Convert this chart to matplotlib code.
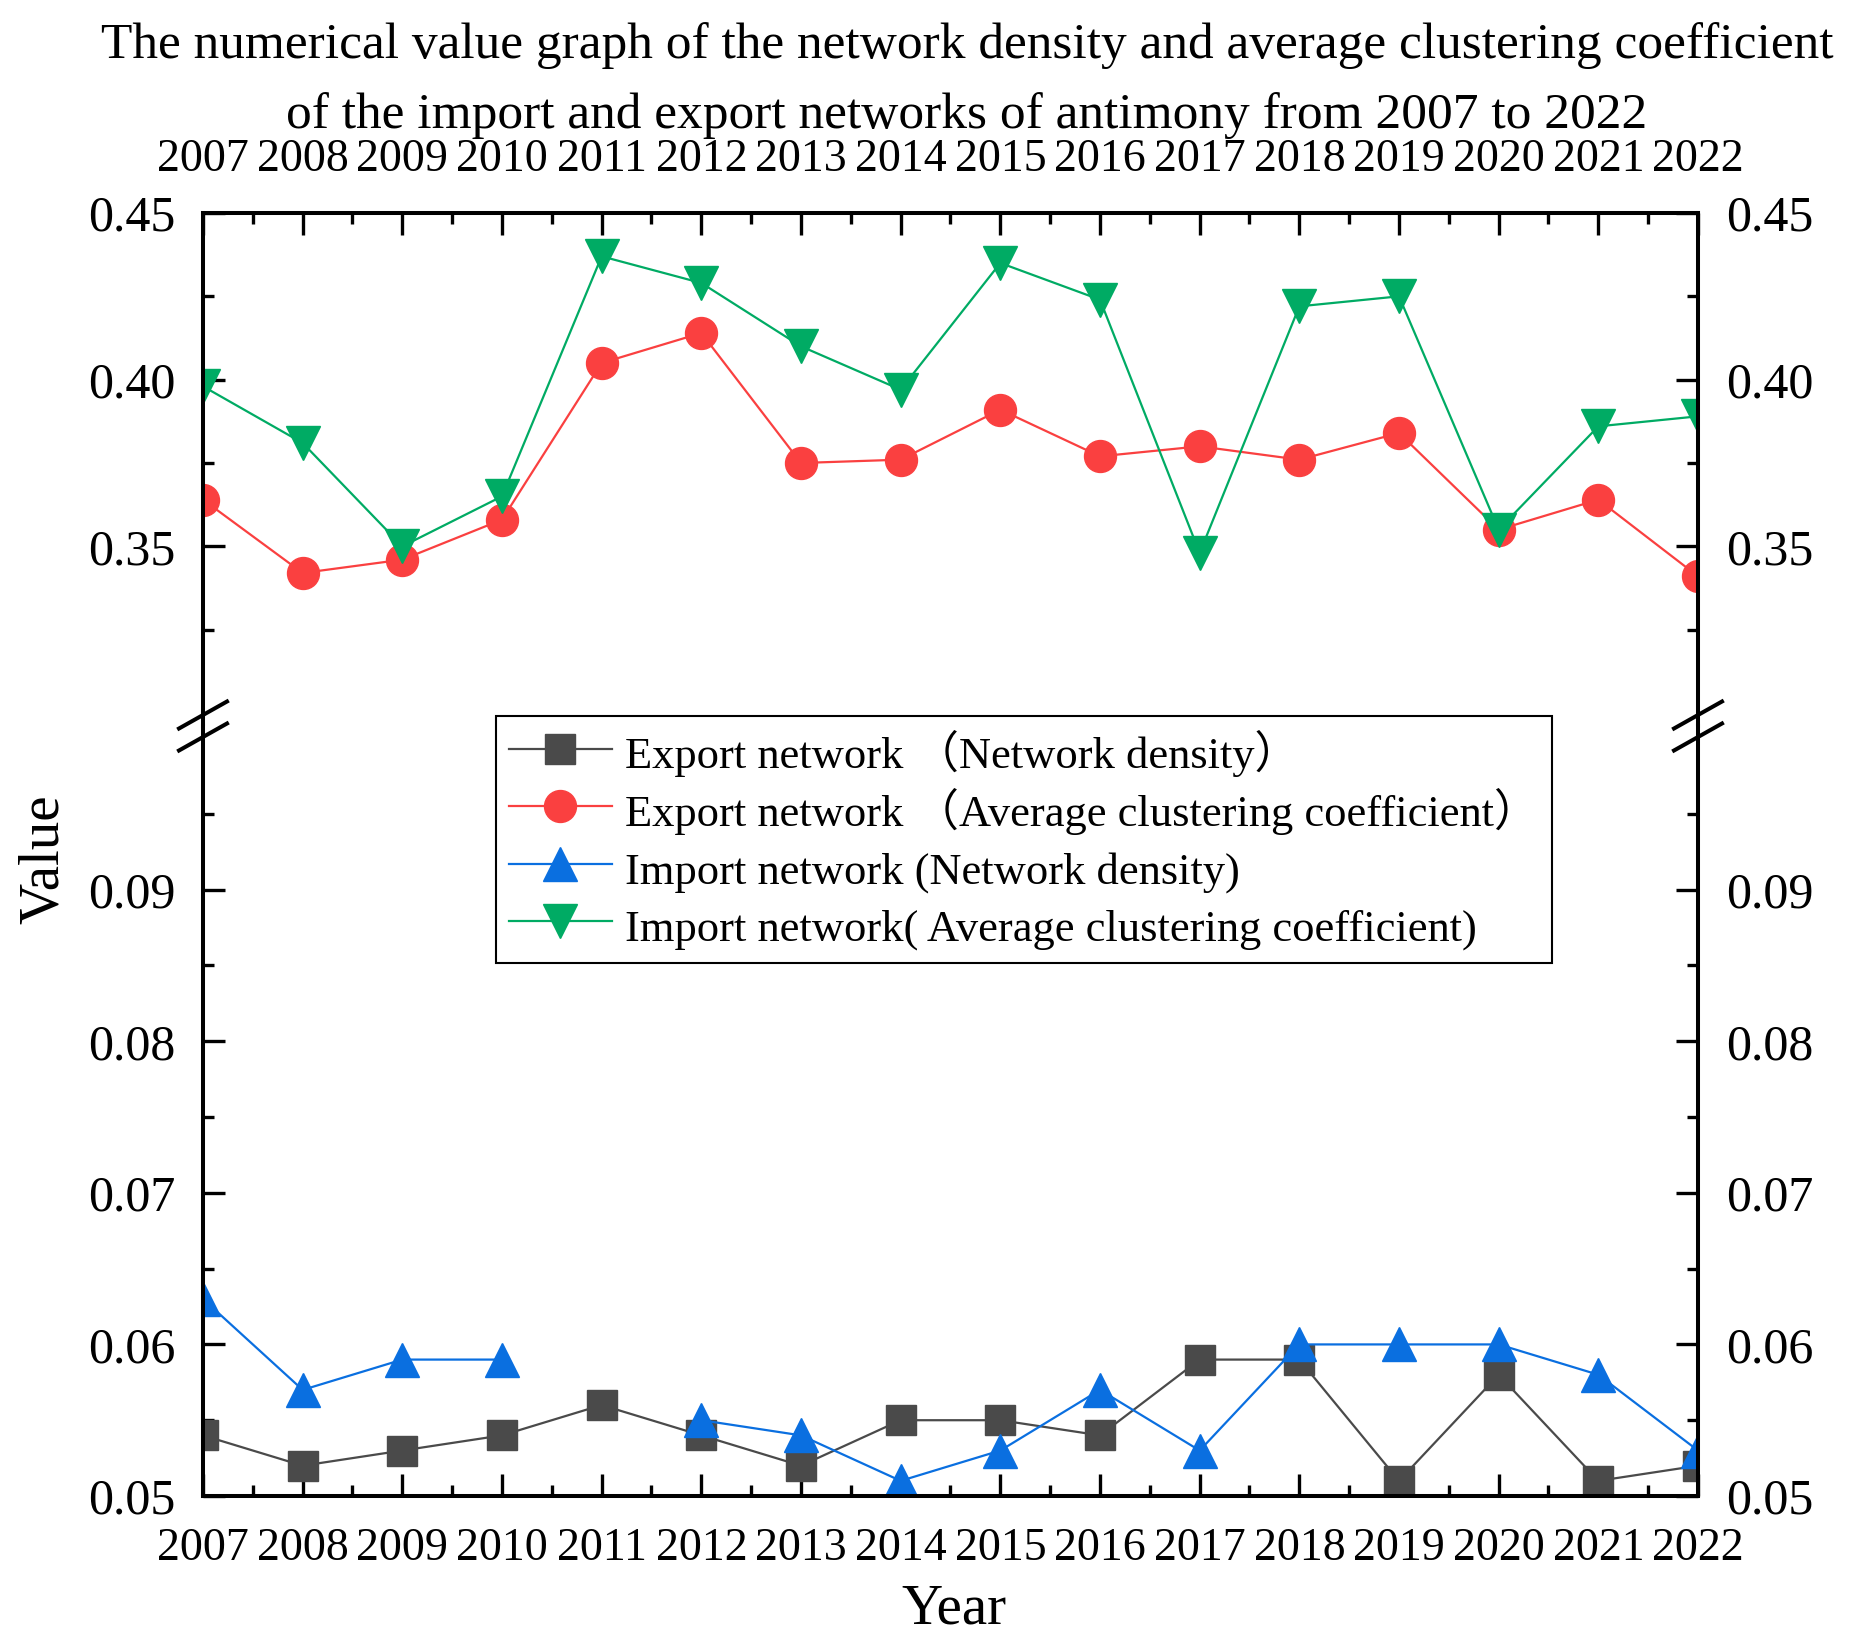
import numpy as np
import matplotlib
matplotlib.use('Agg')
import matplotlib.pyplot as plt
from matplotlib.lines import Line2D
from matplotlib.ticker import FormatStrFormatter

plt.rcParams['font.family'] = ['Liberation Serif', 'Noto Sans CJK SC']

# data
years = np.arange(2007, 2023)
exp_density = [0.054, 0.052, 0.053, 0.054, 0.056, 0.054, 0.052, 0.055,
               0.055, 0.054, 0.059, 0.059, 0.051, 0.058, 0.051, 0.052]
imp_density = [0.063, 0.057, 0.059, 0.059, np.nan, 0.055, 0.054, 0.051,
               0.053, 0.057, 0.053, 0.060, 0.060, 0.060, 0.058, 0.053]
exp_cluster = [0.364, 0.342, 0.346, 0.358, 0.405, 0.414, 0.375, 0.376,
               0.391, 0.377, 0.380, 0.376, 0.384, 0.355, 0.364, 0.341]
imp_cluster = [0.398, 0.381, 0.350, 0.365, 0.437, 0.429, 0.410, 0.397,
               0.435, 0.424, 0.348, 0.422, 0.425, 0.355, 0.386, 0.389]

labels = ["Export network \uff08Network density\uff09",
          "Export network \uff08Average clustering coefficient\uff09",
          "Import network (Network density)",
          "Import network( Average clustering coefficient)"]

title1 = "The numerical value graph of the network density and average clustering coefficient"
title2 = "of the import and export networks of antimony from 2007 to 2022"

c_gray = '#4a4a4a'
c_red = '#fa4040'
c_blue = '#0a6fe0'
c_green = '#00ab64'

W, H = 1850, 1651
fig = plt.figure(figsize=(W/100, H/100), dpi=100)

# plot frame in pixels: left, right, top, split (break), bottom
L, R, T, S, B = 203, 1698, 213, 726, 1496
ax_top = fig.add_axes([L/W, 1-S/H, (R-L)/W, (S-T)/H])
ax_bot = fig.add_axes([L/W, 1-B/H, (R-L)/W, (B-S)/H])

lw = 1.6
h2, = ax_top.plot(years, exp_cluster, color=c_red, marker='o', ms=23, lw=lw)
h4, = ax_top.plot(years, imp_cluster, color=c_green, marker='v', ms=25, lw=lw)
h1, = ax_bot.plot(years, exp_density, color=c_gray, marker='s', ms=21, lw=lw)
h3, = ax_bot.plot(years, imp_density, color=c_blue, marker='^', ms=25, lw=lw)

ax_top.set_ylim(0.2961, 0.45)
ax_bot.set_ylim(0.05, 0.1008)
ax_top.set_yticks([0.35, 0.40, 0.45])
ax_top.set_yticks([0.325, 0.375, 0.425], minor=True)
ax_bot.set_yticks([0.05, 0.06, 0.07, 0.08, 0.09])
ax_bot.set_yticks([0.055, 0.065, 0.075, 0.085, 0.095], minor=True)

for ax in (ax_top, ax_bot):
    ax.set_xlim(2007, 2022)
    ax.set_xticks(years)
    ax.set_xticks(years[:-1] + 0.5, minor=True)
    ax.yaxis.set_major_formatter(FormatStrFormatter('%.2f'))
    ax.tick_params(which='both', direction='in', width=2.4)
    ax.tick_params(which='major', length=16)
    ax.tick_params(which='minor', length=8)
    ax.tick_params(axis='y', which='both', left=True, right=True,
                   labelleft=True, labelright=True, labelsize=36, pad=20)
    ax.tick_params(axis='x', labelsize=33, pad=23)
    for sp in ax.spines.values():
        sp.set_linewidth(2.9)

ax_top.spines['bottom'].set_visible(False)
ax_bot.spines['top'].set_visible(False)
ax_top.tick_params(axis='x', which='both', bottom=False, top=True,
                   labelbottom=False, labeltop=True)
ax_bot.tick_params(axis='x', which='both', bottom=True, top=False,
                   labelbottom=True, labeltop=False)

# break marks on both spines
for x in (L, R):
    for yc in (S - 11, S + 11):
        fig.add_artist(Line2D([(x - 24)/W, (x + 24)/W],
                              [1 - (yc + 13.5)/H, 1 - (yc - 13.5)/H],
                              transform=fig.transFigure, color='black', lw=2.9))

leg = ax_bot.legend([h1, h2, h3, h4], labels, loc='upper left',
                    bbox_to_anchor=(496/W, 1 - 716/H), bbox_transform=fig.transFigure,
                    fontsize=32, frameon=True, fancybox=False, framealpha=1,
                    edgecolor='black', borderpad=0.3, borderaxespad=0,
                    handlelength=2.3, handleheight=1.3, handletextpad=0.3,
                    labelspacing=0.2)
leg.get_frame().set_linewidth(1.5)

fig.text(967/W, 1 - 58/H, title1, ha='center', va='baseline', fontsize=37)
fig.text(967/W, 1 - 128/H, title2, ha='center', va='baseline', fontsize=37)
fig.text(954/W, 1 - 1623/H, 'Year', ha='center', va='baseline', fontsize=41)
fig.text(44/W, 1 - 859/H, 'Value', ha='center', va='center', rotation=90, fontsize=41)

fig.savefig('out.png', dpi=100)
